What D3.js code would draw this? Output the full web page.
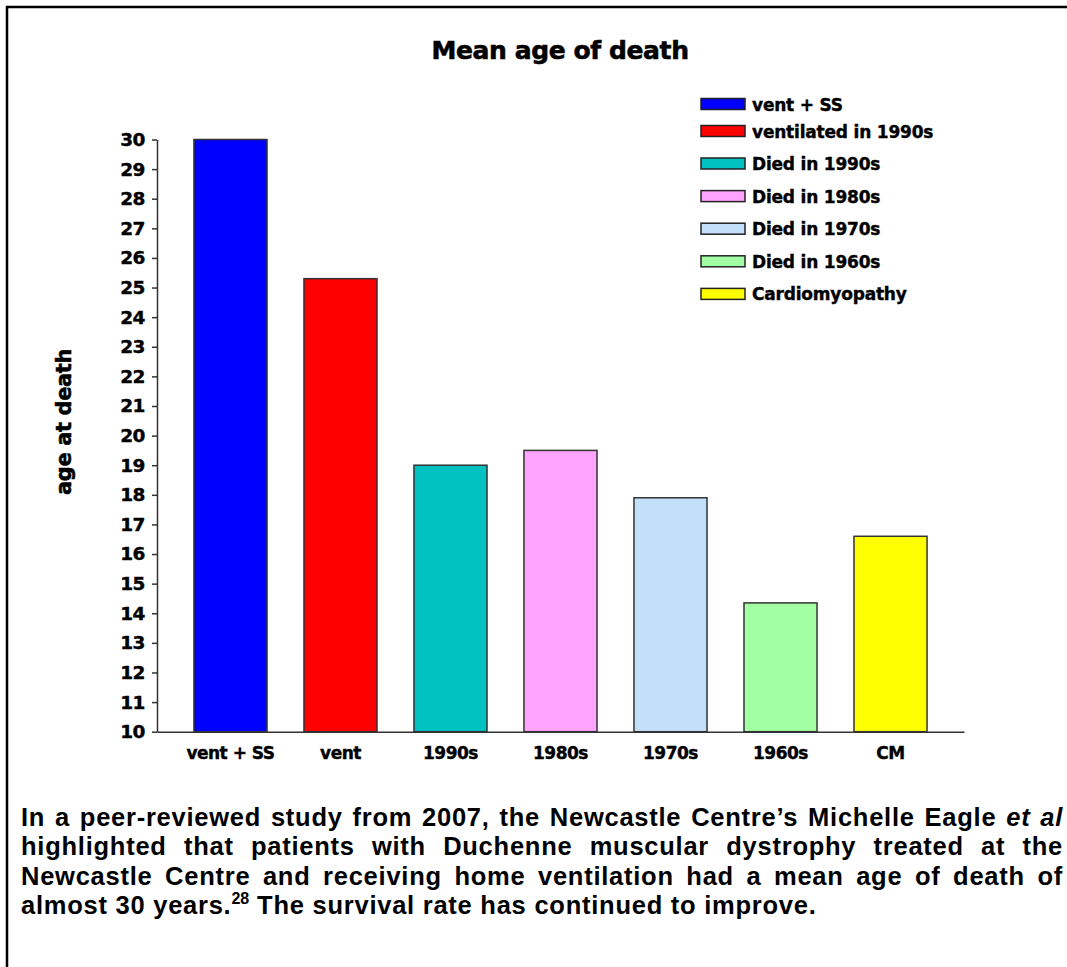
<!DOCTYPE html>
<html>
<head>
<meta charset="utf-8">
<script src="https://cdn.jsdelivr.net/npm/d3@7"></script>
<style>
  html, body { margin: 0; padding: 0; background: #fff; }
  svg { display: block; }
</style>
</head>
<body>
<svg id="chart" width="1067" height="967"></svg>
<script>
// ---- data ----
const categories = ["vent + SS", "vent", "1990s", "1980s", "1970s", "1960s", "CM"];
const values = [30.0, 25.3, 19.0, 19.5, 17.9, 14.35, 16.6];
const colors = ["#0000ff", "#ff0000", "#00c0c0", "#ffa3ff", "#c3e0fb", "#a3ffa3", "#ffff00"];
const legendLabels = ["vent + SS", "ventilated in 1990s", "Died in 1990s", "Died in 1980s", "Died in 1970s", "Died in 1960s", "Cardiomyopathy"];
const yTicks = d3.range(10, 31);
const titleText = "Mean age of death";
const yAxisTitle = "age at death";

const chartFont = "'DejaVu Sans', sans-serif";
const paraFont = "'Liberation Sans', Arial, sans-serif";

const svg = d3.select("#chart");

// frame
svg.append("path")
  .attr("d", "M7,975 V7 H1075")
  .attr("fill", "none").attr("stroke", "#000").attr("stroke-width", 2.5);

// scales
const x = d3.scaleBand().domain(categories).range([157, 964]).paddingInner(0.336).paddingOuter(0.336);
const y = d3.scaleLinear().domain([10, 30]).range([731.7, 139.5]);

// title
svg.append("text").attr("x", 560).attr("y", 59).attr("text-anchor", "middle")
  .style("font-family", chartFont)
  .attr("font-size", 25).attr("font-weight", "bold").attr("letter-spacing", -0.4)
  .attr("stroke", "#000").attr("stroke-width", 0.6)
  .text(titleText);

// bars
svg.append("g").selectAll("rect").data(values).join("rect")
  .attr("x", (d, i) => x(categories[i]))
  .attr("y", d => y(d))
  .attr("width", x.bandwidth())
  .attr("height", d => y(10) - y(d))
  .attr("fill", (d, i) => colors[i])
  .attr("stroke", "#333").attr("stroke-width", 1.5);

// y axis
const yAxis = svg.append("g").attr("transform", "translate(157,0)")
  .call(d3.axisLeft(y).tickValues(yTicks).tickSize(5).tickSizeOuter(0).tickPadding(7).tickFormat(d3.format("d")));
yAxis.select(".domain").attr("stroke", "#333").attr("stroke-width", 1.5);
yAxis.selectAll(".tick line").attr("stroke", "#333").attr("stroke-width", 1.5);
yAxis.selectAll(".tick text").attr("font-size", 18.5).attr("font-weight", "bold")
  .style("font-family", chartFont).attr("fill", "#000").attr("letter-spacing", -0.5)
  .attr("stroke", "#000").attr("stroke-width", 0.4);

// x axis
const xAxis = svg.append("g").attr("transform", "translate(0,731.7)")
  .call(d3.axisBottom(x).tickSize(0).tickSizeOuter(0).tickPadding(15));
xAxis.select(".domain").attr("stroke", "#333").attr("stroke-width", 1.5);
xAxis.selectAll(".tick text").attr("font-size", 17).attr("font-weight", "bold")
  .style("font-family", chartFont).attr("fill", "#000").attr("letter-spacing", -0.5)
  .attr("stroke", "#000").attr("stroke-width", 0.4);

// y-axis title
svg.append("text").attr("transform", "translate(71,422) rotate(-90)").attr("text-anchor", "middle")
  .style("font-family", chartFont)
  .attr("font-size", 21).attr("font-weight", "bold").attr("letter-spacing", -0.4)
  .attr("stroke", "#000").attr("stroke-width", 0.5)
  .text(yAxisTitle);

// legend
const legendY = i => i < 2 ? 104 + i * 27 : 163.5 + (i - 2) * 32.6;
const lg = svg.append("g").selectAll("g").data(legendLabels).join("g")
  .attr("transform", (d, i) => `translate(701,${legendY(i)})`);
lg.append("rect").attr("x", 0).attr("y", -5.5).attr("width", 44).attr("height", 11)
  .attr("fill", (d, i) => colors[i]).attr("stroke", "#222").attr("stroke-width", 1.5);
lg.append("text").attr("x", 51).attr("y", 6.5)
  .style("font-family", chartFont)
  .attr("font-size", 17).attr("font-weight", "bold").attr("letter-spacing", -0.2)
  .attr("stroke", "#000").attr("stroke-width", 0.4)
  .text(d => d);

// paragraph
const paraLines = [
  [{t: "In a peer-reviewed study from 2007, the Newcastle Centre\u2019s Michelle Eagle "}, {t: "et al", it: true}],
  [{t: "highlighted that patients with Duchenne muscular dystrophy treated at the"}],
  [{t: "Newcastle Centre and receiving home ventilation had a mean age of death of"}],
  [{t: "almost 30 years."}, {t: "28", sup: true}, {t: " The survival rate has continued to improve."}]
];
const paraX = 21, paraW = 1042, paraY0 = 826, paraLH = 29.3;
paraLines.forEach((segs, li) => {
  const t = svg.append("text").attr("x", paraX).attr("y", paraY0 + li * paraLH)
    .style("font-family", paraFont)
    .attr("font-size", 25.5).attr("font-weight", "bold").attr("letter-spacing", 0.75);
  segs.forEach((s, si) => {
    const ts = t.append("tspan").text(s.t);
    if (s.it) ts.attr("font-style", "italic");
    if (s.sup) ts.attr("font-size", 16).attr("dy", -10).attr("letter-spacing", 0);
    else if (si > 0 && segs[si - 1].sup) ts.attr("dy", 10);
  });
  if (li < paraLines.length - 1) {
    const w = t.node().getComputedTextLength();
    const full = segs.map(s => s.t).join("");
    const nSp = (full.match(/ /g) || []).length;
    t.attr("word-spacing", (paraW - w) / nSp);
  }
});
</script>
</body>
</html>
